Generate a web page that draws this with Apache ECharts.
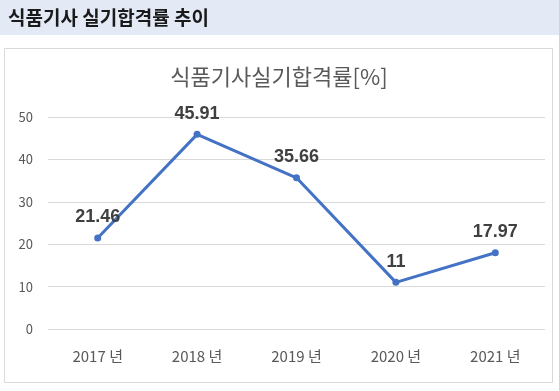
<!DOCTYPE html>
<html>
<head>
<meta charset="utf-8">
<script src="https://cdn.jsdelivr.net/npm/echarts@6/dist/echarts.min.js"></script>
<style>
html,body{margin:0;padding:0;background:#fff;}
#c{width:559px;height:391px;}
</style>
</head>
<body>
<div id="c"></div>
<script>
const categories = ['2017 년', '2018 년', '2019 년', '2020 년', '2021 년'];
const passRates = [21.46, 45.91, 35.66, 11, 17.97];
const yTicks = [0, 10, 20, 30, 40, 50];
const headerText = '식품기사 실기합격률 추이';
const chartTitle = '식품기사실기합격률[%]';

const FONT = '"Noto Sans CJK KR", "Noto Sans", sans-serif';
const chart = echarts.init(document.getElementById('c'), null, {renderer: 'canvas'});
chart.setOption({
  backgroundColor: '#ffffff',
  animation: false,
  graphic: [
    {type: 'rect', left: 0, top: 0, z: -10, shape: {width: 559, height: 35}, style: {fill: '#e3eaf6'}},
    {type: 'rect', z: -10, shape: {x: 4.5, y: 48.5, width: 548, height: 334}, style: {fill: '#ffffff', stroke: '#d9d9d9', lineWidth: 1}},
    {type: 'text', x: 8, y: 18, style: {text: headerText, font: 'bold 19px ' + FONT, fill: '#1a1a1a', textVerticalAlign: 'middle', textAlign: 'left'}},
    {type: 'text', x: 279, y: 77, style: {text: chartTitle, font: '22px ' + FONT, fill: '#595959', textVerticalAlign: 'middle', textAlign: 'center'}}
  ],
  grid: {left: 48, right: 14, top: 117, bottom: 62, containLabel: false},
  xAxis: {
    type: 'category',
    data: categories,
    boundaryGap: true,
    axisLine: {show: false},
    axisTick: {show: false},
    axisLabel: {color: '#595959', fontSize: 15, fontFamily: FONT, margin: 20}
  },
  yAxis: {
    type: 'value',
    min: yTicks[0],
    max: yTicks[yTicks.length - 1],
    interval: 10,
    axisLine: {show: false},
    axisTick: {show: false},
    axisLabel: {color: '#595959', fontSize: 13, fontFamily: FONT, margin: 15},
    splitLine: {lineStyle: {color: '#d9d9d9', width: 1}}
  },
  series: [{
    type: 'line',
    data: passRates,
    symbol: 'circle',
    symbolSize: 7,
    lineStyle: {color: '#4472c4', width: 3},
    itemStyle: {color: '#4472c4'},
    label: {
      show: true,
      position: 'top',
      distance: 8,
      fontSize: 18,
      fontWeight: 'bold',
      color: '#404040',
      fontFamily: '"Liberation Sans", "Noto Sans", sans-serif'
    }
  }]
});
</script>
</body>
</html>
